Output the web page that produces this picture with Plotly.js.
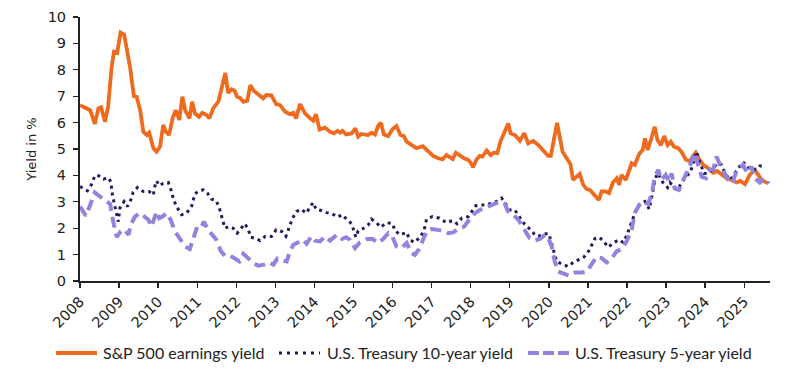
<!DOCTYPE html>
<html>
<head>
<meta charset="utf-8">
<script src="https://cdn.plot.ly/plotly-3.0.1.min.js"></script>
<style>
html,body{margin:0;padding:0;background:#fff;}
#chart{width:800px;height:376px;}
</style>
</head>
<body>
<div id="chart"></div>
<script>
// Decimal-year positions and values
const spDates = [2008.0,2008.13,2008.26,2008.38,2008.47,2008.54,2008.64,2008.72,2008.81,2008.87,2008.95,2009.04,2009.13,2009.28,2009.38,2009.45,2009.54,2009.62,2009.71,2009.77,2009.88,2009.96,2010.05,2010.13,2010.2,2010.28,2010.37,2010.45,2010.54,2010.62,2010.69,2010.8,2010.87,2010.94,2011.05,2011.13,2011.24,2011.31,2011.41,2011.54,2011.62,2011.72,2011.79,2011.88,2011.96,2012.02,2012.09,2012.18,2012.28,2012.36,2012.45,2012.56,2012.69,2012.77,2012.9,2013.02,2013.12,2013.25,2013.37,2013.46,2013.53,2013.63,2013.76,2013.89,2013.97,2014.04,2014.13,2014.27,2014.4,2014.5,2014.59,2014.66,2014.72,2014.81,2014.95,2015.05,2015.12,2015.2,2015.37,2015.46,2015.55,2015.63,2015.7,2015.78,2015.89,2015.99,2016.1,2016.2,2016.29,2016.36,2016.48,2016.61,2016.77,2016.91,2017.04,2017.17,2017.28,2017.38,2017.48,2017.54,2017.62,2017.72,2017.83,2017.94,2018.0,2018.06,2018.15,2018.23,2018.3,2018.41,2018.51,2018.59,2018.68,2018.76,2018.87,2018.96,2019.02,2019.13,2019.26,2019.37,2019.47,2019.6,2019.73,2019.86,2019.98,2020.05,2020.21,2020.35,2020.49,2020.55,2020.62,2020.71,2020.79,2020.88,2020.97,2021.05,2021.18,2021.28,2021.35,2021.46,2021.54,2021.64,2021.74,2021.8,2021.86,2021.97,2022.12,2022.2,2022.31,2022.4,2022.46,2022.53,2022.61,2022.71,2022.78,2022.87,2022.95,2023.04,2023.12,2023.2,2023.31,2023.39,2023.5,2023.61,2023.69,2023.76,2023.85,2023.95,2024.08,2024.21,2024.31,2024.42,2024.55,2024.67,2024.8,2024.9,2025.02,2025.14,2025.27,2025.36,2025.44,2025.61];
const spYield = [6.66,6.56,6.47,5.95,6.54,6.58,6.03,6.6,8.11,8.68,8.64,9.41,9.33,8.11,7.0,6.98,6.47,5.65,5.53,5.62,5.03,4.9,5.09,5.91,5.65,5.53,6.16,6.47,6.1,6.98,6.47,6.16,6.79,6.35,6.22,6.37,6.29,6.16,6.54,6.79,7.23,7.88,7.13,7.26,7.2,6.98,6.94,6.79,6.83,7.42,7.2,7.08,6.92,7.05,7.03,6.7,6.66,6.41,6.32,6.37,6.16,6.7,6.35,6.16,6.07,6.32,5.74,5.81,5.65,5.59,5.69,5.62,5.69,5.55,5.59,5.78,5.47,5.57,5.53,5.62,5.55,5.87,5.99,5.55,5.49,5.74,5.87,5.53,5.49,5.28,5.15,5.03,5.11,4.9,4.74,4.65,4.61,4.77,4.69,4.62,4.86,4.74,4.65,4.58,4.48,4.31,4.61,4.74,4.71,4.94,4.77,4.86,4.84,5.28,5.62,5.97,5.59,5.53,5.31,5.6,5.21,5.3,5.15,4.96,4.74,4.74,5.99,4.9,4.61,4.43,3.83,3.95,4.06,3.64,3.48,3.45,3.26,3.07,3.39,3.39,3.33,3.73,3.89,3.64,4.02,3.83,4.46,4.4,4.81,4.96,5.4,4.96,5.34,5.84,5.34,5.15,5.49,5.15,5.28,5.09,5.03,4.9,4.61,4.52,4.74,4.86,4.61,4.4,4.27,4.1,4.17,4.02,3.89,3.83,3.73,3.79,3.67,4.02,4.21,4.02,3.83,3.7];

const t10Dates = [2008.0,2008.19,2008.3,2008.37,2008.44,2008.6,2008.72,2008.79,2008.83,2008.87,2008.91,2008.94,2008.98,2009.02,2009.13,2009.21,2009.3,2009.36,2009.47,2009.62,2009.77,2009.88,2009.9,2009.96,2010.03,2010.13,2010.26,2010.33,2010.39,2010.47,2010.6,2010.73,2010.86,2010.94,2011.05,2011.16,2011.26,2011.37,2011.48,2011.56,2011.61,2011.65,2011.71,2011.8,2011.92,2012.02,2012.14,2012.22,2012.31,2012.37,2012.48,2012.61,2012.74,2012.9,2013.02,2013.16,2013.27,2013.33,2013.44,2013.54,2013.65,2013.8,2013.89,2013.97,2014.04,2014.18,2014.31,2014.46,2014.6,2014.7,2014.84,2014.95,2015.01,2015.06,2015.12,2015.23,2015.38,2015.46,2015.59,2015.69,2015.85,2016.0,2016.06,2016.19,2016.36,2016.43,2016.55,2016.68,2016.8,2016.87,2017.02,2017.2,2017.38,2017.54,2017.65,2017.77,2017.94,2018.02,2018.13,2018.28,2018.41,2018.53,2018.66,2018.79,2018.9,2019.0,2019.13,2019.24,2019.37,2019.51,2019.64,2019.73,2019.88,2020.0,2020.09,2020.15,2020.2,2020.33,2020.49,2020.62,2020.77,2020.9,2021.03,2021.11,2021.18,2021.28,2021.39,2021.52,2021.65,2021.79,2021.9,2022.0,2022.12,2022.25,2022.35,2022.46,2022.57,2022.65,2022.71,2022.77,2022.84,2022.92,2023.04,2023.1,2023.18,2023.28,2023.38,2023.5,2023.62,2023.72,2023.78,2023.86,2023.97,2024.08,2024.21,2024.33,2024.42,2024.52,2024.65,2024.74,2024.84,2024.95,2025.06,2025.14,2025.23,2025.31,2025.4,2025.55];
const t10Yield = [3.58,3.42,3.67,3.95,4.02,3.86,3.92,3.76,3.26,2.97,2.69,2.44,2.25,2.76,3.01,2.82,3.07,3.36,3.54,3.39,3.39,3.26,3.51,3.79,3.61,3.7,3.73,3.45,3.11,2.82,2.51,2.57,2.85,3.3,3.42,3.45,3.33,3.1,3.05,2.8,2.51,2.28,2.0,2.06,2.0,1.81,2.04,2.17,1.94,1.66,1.62,1.53,1.69,1.69,1.94,1.88,1.69,1.94,2.38,2.63,2.72,2.57,2.82,2.97,2.72,2.67,2.59,2.54,2.42,2.51,2.32,2.17,1.9,1.66,1.9,1.97,2.13,2.34,2.21,2.04,2.21,2.17,1.91,1.75,1.84,1.59,1.46,1.62,1.88,2.34,2.44,2.38,2.21,2.29,2.17,2.38,2.44,2.63,2.85,2.88,2.88,2.95,3.01,3.14,2.92,2.69,2.69,2.47,2.17,1.97,1.75,1.69,1.79,1.79,1.28,0.99,0.74,0.65,0.55,0.7,0.83,0.91,1.16,1.37,1.61,1.66,1.53,1.28,1.44,1.56,1.46,1.75,2.25,2.76,2.92,3.01,2.72,3.33,3.76,4.08,3.95,3.73,3.54,3.73,3.58,3.45,3.68,3.95,4.1,4.61,4.9,4.52,4.08,4.06,4.27,4.48,4.4,4.04,3.83,4.06,4.23,4.5,4.43,4.23,4.21,4.23,4.36,4.36];

const t5Dates = [2008.0,2008.07,2008.15,2008.26,2008.38,2008.51,2008.67,2008.77,2008.84,2008.94,2009.04,2009.15,2009.24,2009.32,2009.41,2009.52,2009.62,2009.75,2009.83,2009.9,2009.96,2010.03,2010.11,2010.22,2010.32,2010.43,2010.56,2010.69,2010.81,2010.9,2010.98,2011.07,2011.17,2011.28,2011.41,2011.49,2011.61,2011.71,2011.84,2011.97,2012.08,2012.18,2012.31,2012.44,2012.56,2012.71,2012.84,2012.95,2013.05,2013.16,2013.29,2013.37,2013.46,2013.59,2013.71,2013.8,2013.92,2014.01,2014.14,2014.27,2014.4,2014.57,2014.7,2014.81,2014.91,2015.04,2015.16,2015.34,2015.49,2015.63,2015.76,2015.89,2016.0,2016.1,2016.23,2016.36,2016.48,2016.57,2016.68,2016.78,2016.87,2017.0,2017.12,2017.28,2017.42,2017.55,2017.68,2017.83,2017.96,2018.11,2018.23,2018.41,2018.57,2018.75,2018.87,2018.96,2019.09,2019.22,2019.35,2019.51,2019.64,2019.77,2019.9,2019.98,2020.07,2020.15,2020.24,2020.37,2020.52,2020.67,2020.84,2020.97,2021.09,2021.22,2021.35,2021.48,2021.6,2021.73,2021.86,2021.99,2022.12,2022.2,2022.31,2022.41,2022.54,2022.64,2022.71,2022.8,2022.88,2022.99,2023.08,2023.14,2023.22,2023.33,2023.42,2023.52,2023.62,2023.73,2023.82,2023.91,2024.02,2024.12,2024.21,2024.29,2024.38,2024.49,2024.59,2024.69,2024.8,2024.89,2024.97,2025.08,2025.19,2025.27,2025.4,2025.52,2025.64];
const t5Yield = [2.82,2.63,2.47,2.88,3.35,3.2,3.01,2.92,2.32,1.66,1.88,1.94,1.75,2.19,2.44,2.57,2.47,2.32,2.06,2.32,2.63,2.38,2.44,2.57,2.32,1.88,1.56,1.31,1.21,1.59,1.97,1.94,2.25,1.94,1.69,1.56,1.12,0.96,0.96,0.83,0.74,1.03,0.83,0.68,0.58,0.62,0.7,0.62,0.85,0.78,0.74,1.12,1.37,1.46,1.56,1.41,1.69,1.53,1.5,1.69,1.53,1.75,1.59,1.66,1.56,1.25,1.46,1.59,1.59,1.44,1.59,1.81,1.66,1.31,1.25,1.44,1.06,0.99,1.21,1.56,1.88,1.97,1.94,1.91,1.81,1.84,1.97,2.06,2.32,2.57,2.69,2.8,2.92,3.01,2.92,2.63,2.51,2.32,2.0,1.62,1.53,1.59,1.75,1.66,1.31,0.74,0.36,0.28,0.2,0.32,0.32,0.36,0.62,0.91,0.87,0.7,0.83,1.12,1.21,1.5,1.94,2.57,2.88,3.01,2.92,3.33,3.95,4.21,3.83,4.02,3.76,4.08,3.51,3.45,3.76,4.08,4.4,4.86,4.46,3.95,3.89,4.21,4.23,4.71,4.4,4.08,3.83,3.7,4.14,4.27,4.4,4.08,4.33,3.89,3.73,3.89,3.7];

const yearTicks = [2008,2009,2010,2011,2012,2013,2014,2015,2016,2017,2018,2019,2020,2021,2022,2023,2024,2025];
const yearLabels = yearTicks.map(String);
const yTicks = [0,1,2,3,4,5,6,7,8,9,10];
const seriesNames = ['S&P 500 earnings yield','U.S. Treasury 10-year yield','U.S. Treasury 5-year yield'];
const seriesColors = ['#EE6A1E', '#211C5E', '#9184DE'];

const traces = [
  {x: spDates, y: spYield, name: seriesNames[0], type: 'scatter', mode: 'lines',
   line: {color: seriesColors[0], width: 3.8}},
  {x: t10Dates, y: t10Yield, name: seriesNames[1], type: 'scatter', mode: 'lines',
   line: {color: seriesColors[1], width: 3, dash: '3px,4px'}},
  {x: t5Dates, y: t5Yield, name: seriesNames[2], type: 'scatter', mode: 'lines',
   line: {color: seriesColors[2], width: 4, dash: '11px,6px'}}
];

const tickFont = {family: 'DejaVu Sans', size: 14.5, color: '#222'};
const titleFont = {family: 'DejaVu Sans', size: 13, color: '#222'};
const legendFont = {family: 'Lato', size: 16, color: '#222'};

// Legend drawn as paper-referenced samples + text (pixel -> paper conversion)
const PL = 80, PW = 690, PB = 281, PH = 264;
const px = v => (v - PL) / PW;
const py = v => (PB - v) / PH;
const legendItems = [
  {x0: 56, x1: 97, tx: 101, dash: 'solid', width: 4},
  {x0: 279, x1: 320, tx: 325, dash: '3px,5px', width: 3},
  {x0: 528, x1: 569, tx: 573, dash: '11px,4px', width: 4}
];
const legendY = 353;
const shapes = legendItems.map((it, i) => ({
  type: 'line', xref: 'paper', yref: 'paper',
  x0: px(it.x0), x1: px(it.x1), y0: py(legendY), y1: py(legendY),
  line: {color: seriesColors[i], width: it.width, dash: it.dash}
}));
const annotations = legendItems.map((it, i) => ({
  xref: 'paper', yref: 'paper', x: px(it.tx), y: py(legendY - 1),
  xanchor: 'left', yanchor: 'middle', showarrow: false,
  text: seriesNames[i], font: legendFont
}));

const layout = {
  width: 800, height: 376,
  margin: {l: 80, r: 30, t: 17, b: 95},
  paper_bgcolor: '#fff', plot_bgcolor: '#fff',
  font: {family: 'DejaVu Sans', color: '#222'},
  showlegend: false,
  shapes: shapes,
  annotations: annotations,
  xaxis: {
    range: [2008, 2025.66], tickmode: 'array', tickvals: yearTicks, ticktext: yearLabels,
    tickangle: -45, ticks: 'outside', ticklen: 5, tickwidth: 1.3, tickcolor: '#222',
    showline: true, linecolor: '#222', linewidth: 1.5, showgrid: false, zeroline: false,
    tickfont: tickFont, automargin: false
  },
  yaxis: {
    range: [0, 10], tickmode: 'array', tickvals: yTicks,
    ticks: 'outside', ticklen: 5, tickwidth: 1.3, tickcolor: '#222',
    showline: true, linecolor: '#222', linewidth: 2, showgrid: false, zeroline: false,
    tickfont: tickFont, ticklabelstandoff: 4, automargin: false,
    title: {text: 'Yield in %', font: titleFont, standoff: 8}
  }
};

Plotly.newPlot('chart', traces, layout, {displayModeBar: false, staticPlot: true});
</script>
</body>
</html>
